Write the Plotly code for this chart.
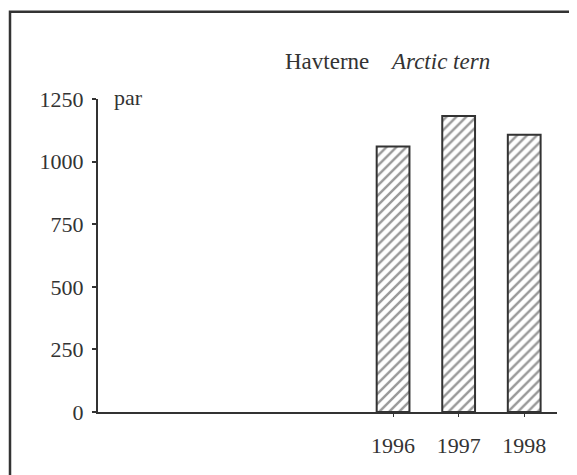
import plotly.graph_objects as go

years = [1996, 1997, 1998]
pairs = [1060, 1182, 1107]
y_ticks = [0, 250, 500, 750, 1000, 1250]
x_ticks = [1996, 1997, 1998]
x_tick_labels = ["1996", "1997", "1998"]

INK = "#333333"
FONT = "Liberation Serif"

W, H = 577, 475
OFF = 8  # page body margin
L, R, T, B = 90, 28, 90.5, 70.5
pw, ph = W - L - R, H - T - B

def px(x):
    return (x - OFF - L) / pw

def py(y):
    return (H - B - (y - OFF)) / ph

fig = go.Figure()
fig.add_trace(go.Bar(
    x=years, y=pairs, width=0.5,
    marker=dict(
        color="white",
        line=dict(color=INK, width=2),
        pattern=dict(shape="/", fgcolor=INK, bgcolor="white", size=7, solidity=0.35),
    ),
    showlegend=False,
))

fig.update_layout(
    width=W, height=H,
    margin=dict(l=L, r=R, t=T, b=B),
    paper_bgcolor="white", plot_bgcolor="white",
    font=dict(family=FONT, size=22, color=INK),
    xaxis=dict(
        range=[1991.5, 1998.5], tickvals=x_ticks, ticktext=x_tick_labels,
        showline=True, linecolor=INK, linewidth=2, showgrid=False, zeroline=False,
        ticks="outside", ticklen=3, tickcolor=INK, tickwidth=1,
        ticklabelstandoff=10,
    ),
    yaxis=dict(
        range=[0, 1250], tickvals=y_ticks,
        showline=True, linecolor=INK, linewidth=2, showgrid=False, zeroline=False,
        ticks="outside", ticklen=4, tickcolor=INK, tickwidth=2,
        ticklabelstandoff=4,
    ),
    bargap=0.5,
)

fig.add_shape(type="rect", xref="paper", yref="paper",
              x0=px(10), x1=px(600), y0=py(530), y1=py(11),
              line=dict(color=INK, width=2.5), fillcolor="rgba(0,0,0,0)", layer="below")

fig.add_annotation(xref="paper", yref="paper", x=px(283), y=py(61),
                   text="Havterne", showarrow=False,
                   font=dict(family=FONT, size=23, color=INK), xanchor="left", yanchor="middle")
fig.add_annotation(xref="paper", yref="paper", x=px(388), y=py(61),
                   text="<i>Arctic tern</i>", showarrow=False,
                   font=dict(family=FONT, size=23, color=INK), xanchor="left", yanchor="middle")
fig.add_annotation(xref="paper", yref="paper", x=px(112), y=py(97),
                   text="par", showarrow=False,
                   font=dict(family=FONT, size=22, color=INK), xanchor="left", yanchor="middle")

fig.write_html("out.html")
